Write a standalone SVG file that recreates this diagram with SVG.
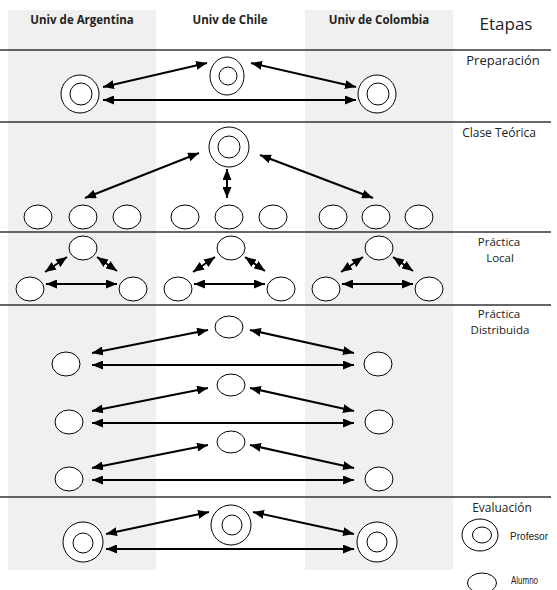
<svg xmlns="http://www.w3.org/2000/svg" width="557" height="590" viewBox="0 0 557 590">
<style>
.bg{fill:#f0f0f0}
.sep{stroke:#333;stroke-width:1.5}
.hdr{font-family:"Open Sans","Liberation Sans",sans-serif;font-weight:bold;font-size:11.5px;fill:#222;text-anchor:middle}
.stg{font-family:"Open Sans","Liberation Sans",sans-serif;font-size:11.5px;fill:#222;text-anchor:middle}
.leg{font-family:"Liberation Sans",sans-serif;font-size:11.5px;fill:#222}
.c{fill:#fff;stroke:#000;stroke-width:1}
.a{stroke:#000;stroke-width:2;fill:none;marker-start:url(#ah);marker-end:url(#ah)}
</style>
<defs>
<marker id="ah" markerUnits="userSpaceOnUse" markerWidth="11" markerHeight="9" refX="11" refY="4.5" orient="auto-start-reverse">
<path d="M0,0 L11,4.5 L0,9 z" fill="#000"/>
</marker>
</defs>
<rect width="557" height="590" fill="#fff"/>
<rect class="bg" x="8" y="10" width="148" height="560"/>
<rect class="bg" x="305" y="10" width="148" height="560"/>
<g id="separators">
<line class="sep" x1="0" y1="50" x2="551" y2="50"/>
<line class="sep" x1="0" y1="122" x2="551" y2="122"/>
<line class="sep" x1="0" y1="232" x2="551" y2="232"/>
<line class="sep" x1="0" y1="305" x2="551" y2="305"/>
<line class="sep" x1="0" y1="497" x2="551" y2="497"/>
</g>
<g id="headers">
<text class="hdr" x="82" y="24">Univ de Argentina</text>
<text class="hdr" x="230" y="24">Univ de Chile</text>
<text class="hdr" x="379" y="24">Univ de Colombia</text>
<text class="stg" x="506" y="30" style="font-size:17px">Etapas</text>
</g>
<g id="stages">
<text class="stg" x="503" y="65" style="font-size:13px">Preparación</text>
<text class="stg" x="499" y="137" style="font-size:12px">Clase Teórica</text>
<text class="stg" x="499" y="246">Práctica</text>
<text class="stg" x="500" y="262">Local</text>
<text class="stg" x="499" y="318">Práctica</text>
<text class="stg" x="500" y="334">Distribuida</text>
<text class="stg" x="502" y="512" style="font-size:12px">Evaluación</text>
</g>
<g id="connectors">
<line class="a" x1="103" y1="87" x2="207" y2="63"/>
<line class="a" x1="251" y1="63" x2="356" y2="87"/>
<line class="a" x1="103" y1="100" x2="356" y2="100"/>
<line class="a" x1="199" y1="153" x2="85" y2="198"/>
<line class="a" x1="227" y1="169" x2="227" y2="198"/>
<line class="a" x1="260" y1="155" x2="373" y2="198"/>
<g id="local-arrows-arg">
<line class="a" x1="45" y1="272" x2="67" y2="257"/>
<line class="a" x1="97" y1="257" x2="117" y2="271"/>
<line class="a" x1="46" y1="284" x2="117" y2="284"/>
</g>
<g transform="translate(148,0)">
<line class="a" x1="45" y1="272" x2="67" y2="257"/>
<line class="a" x1="97" y1="257" x2="117" y2="271"/>
<line class="a" x1="46" y1="284" x2="117" y2="284"/>
</g>
<g transform="translate(296,0)">
<line class="a" x1="45" y1="272" x2="67" y2="257"/>
<line class="a" x1="97" y1="257" x2="117" y2="271"/>
<line class="a" x1="46" y1="284" x2="117" y2="284"/>
</g>
<g>
<line class="a" x1="92" y1="353" x2="208" y2="330"/>
<line class="a" x1="250" y1="330" x2="354" y2="353"/>
<line class="a" x1="92" y1="365" x2="354" y2="365"/>
</g>
<g transform="translate(0,58)">
<line class="a" x1="92" y1="353" x2="208" y2="330"/>
<line class="a" x1="250" y1="330" x2="354" y2="353"/>
<line class="a" x1="92" y1="365" x2="354" y2="365"/>
</g>
<g transform="translate(0,115)">
<line class="a" x1="92" y1="353" x2="208" y2="330"/>
<line class="a" x1="250" y1="330" x2="354" y2="353"/>
<line class="a" x1="92" y1="365" x2="354" y2="365"/>
</g>
<line class="a" x1="106" y1="534" x2="209" y2="512"/>
<line class="a" x1="253" y1="512" x2="354" y2="534"/>
<line class="a" x1="106" y1="549" x2="354" y2="549"/>
</g>
<g id="prep-arg"><circle class="c" cx="80" cy="94" r="19"/><circle class="c" cx="81" cy="94" r="11"/></g>
<g id="prep-chi"><ellipse class="c" cx="227" cy="76" rx="17" ry="19"/><circle class="c" cx="228" cy="76" r="9"/></g>
<g id="prep-col"><circle class="c" cx="377" cy="94" r="19"/><circle class="c" cx="378" cy="94" r="11"/></g>
<g id="teo-prof"><circle class="c" cx="229" cy="147" r="20"/><circle class="c" cx="229" cy="147" r="11"/></g>
<g id="teo-students">
<ellipse class="c" cx="38" cy="217" rx="14" ry="12"/>
<ellipse class="c" cx="83" cy="217" rx="14" ry="12"/>
<ellipse class="c" cx="127" cy="217" rx="14" ry="12"/>
<ellipse class="c" cx="185" cy="217" rx="14" ry="12"/>
<ellipse class="c" cx="229" cy="217" rx="14" ry="12"/>
<ellipse class="c" cx="273" cy="217" rx="14" ry="12"/>
<ellipse class="c" cx="333" cy="217" rx="14" ry="12"/>
<ellipse class="c" cx="376" cy="217" rx="14" ry="12"/>
<ellipse class="c" cx="419" cy="217" rx="14" ry="12"/>
</g>
<g id="local-nodes">
<ellipse class="c" cx="30" cy="289" rx="14" ry="12"/>
<ellipse class="c" cx="83" cy="248" rx="14" ry="12"/>
<ellipse class="c" cx="133" cy="289" rx="14" ry="12"/>
<ellipse class="c" cx="178" cy="289" rx="14" ry="12"/>
<ellipse class="c" cx="231" cy="248" rx="14" ry="12"/>
<ellipse class="c" cx="281" cy="289" rx="14" ry="12"/>
<ellipse class="c" cx="326" cy="289" rx="14" ry="12"/>
<ellipse class="c" cx="379" cy="248" rx="14" ry="12"/>
<ellipse class="c" cx="429" cy="289" rx="14" ry="12"/>
</g>
<g id="dist-nodes">
<ellipse class="c" cx="229" cy="327" rx="14" ry="11"/>
<ellipse class="c" cx="66" cy="364" rx="14" ry="12"/>
<ellipse class="c" cx="378" cy="364" rx="14" ry="12"/>
<ellipse class="c" cx="231" cy="385" rx="14" ry="11"/>
<ellipse class="c" cx="69" cy="422" rx="14" ry="12"/>
<ellipse class="c" cx="379" cy="422" rx="14" ry="12"/>
<ellipse class="c" cx="231" cy="442" rx="14" ry="11"/>
<ellipse class="c" cx="69" cy="479" rx="14" ry="12"/>
<ellipse class="c" cx="379" cy="479" rx="14" ry="12"/>
</g>
<g id="eval-arg"><circle class="c" cx="83" cy="542" r="20"/><circle class="c" cx="83" cy="543" r="10"/></g>
<g id="eval-chi"><circle class="c" cx="231" cy="525" r="20"/><circle class="c" cx="232" cy="525" r="10"/></g>
<g id="eval-col"><circle class="c" cx="377" cy="542" r="20"/><circle class="c" cx="377" cy="542" r="10"/></g>
<g id="legend">
<ellipse class="c" cx="480" cy="535" rx="18" ry="16"/>
<ellipse class="c" cx="482" cy="535" rx="9.5" ry="8"/>
<text class="leg" x="510" y="540" textLength="38" lengthAdjust="spacingAndGlyphs">Profesor</text>
<ellipse class="c" cx="482" cy="583" rx="14.5" ry="10"/>
<text class="leg" x="511" y="584" textLength="27" lengthAdjust="spacingAndGlyphs">Alumno</text>
</g>
</svg>
